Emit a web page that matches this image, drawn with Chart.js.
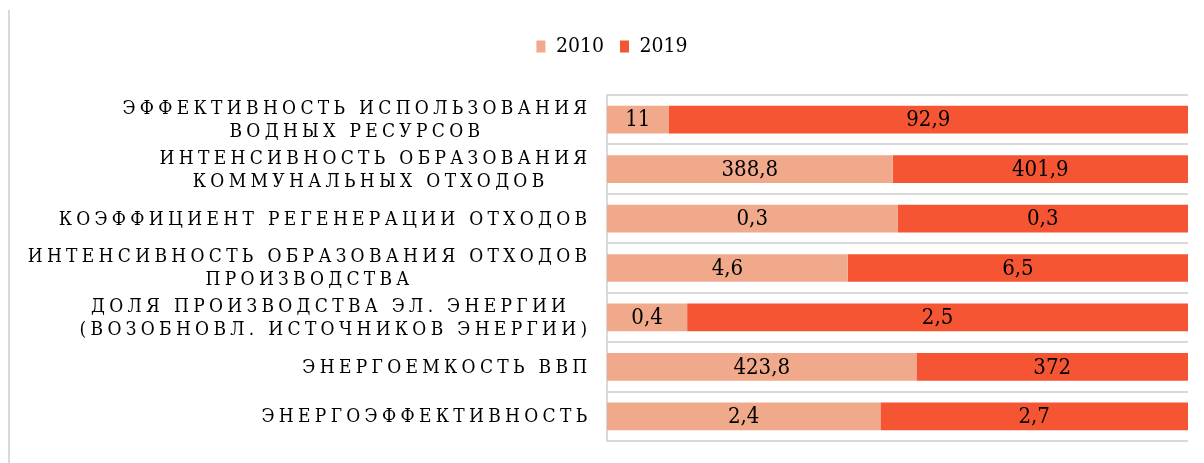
<!DOCTYPE html>
<html lang="ru">
<head>
<meta charset="utf-8">
<script src="https://cdn.jsdelivr.net/npm/chart.js@4.4.1/dist/chart.umd.min.js"></script>
<style>
  html, body { margin: 0; padding: 0; background: #fff; }
  #wrap { position: relative; width: 1204px; height: 463px; }
</style>
</head>
<body>
<div id="wrap"><canvas id="ecoChart"></canvas></div>
<script>
// Категории (многострочные подписи)
const categories = [
    ['ЭФФЕКТИВНОСТЬ ИСПОЛЬЗОВАНИЯ', 'ВОДНЫХ РЕСУРСОВ'],
    ['ИНТЕНСИВНОСТЬ ОБРАЗОВАНИЯ', 'КОММУНАЛЬНЫХ ОТХОДОВ '],
    ['КОЭФФИЦИЕНТ РЕГЕНЕРАЦИИ ОТХОДОВ'],
    ['ИНТЕНСИВНОСТЬ ОБРАЗОВАНИЯ ОТХОДОВ', 'ПРОИЗВОДСТВА'],
    ['ДОЛЯ ПРОИЗВОДСТВА ЭЛ. ЭНЕРГИИ ', '(ВОЗОБНОВЛ. ИСТОЧНИКОВ ЭНЕРГИИ)'],
    ['ЭНЕРГОЕМКОСТЬ ВВП'],
    ['ЭНЕРГОЭФФЕКТИВНОСТЬ']
];
const values2010 = [11, 388.8, 0.3, 4.6, 0.4, 423.8, 2.4];
const values2019 = [92.9, 401.9, 0.3, 6.5, 2.5, 372, 2.7];
const seriesNames = ['2010', '2019'];

const color2010 = '#F1A98B';
const color2019 = '#F55533';
// Liberation Serif здесь без кириллицы/цифр с засечками, берём DejaVu Serif Condensed
const serif = '"DejaVu Serif Condensed", "DejaVu Serif", serif';

// доля каждого года в сумме (100% stacked)
function share(a, b) {
    return a.map((v, i) => v / (v + b[i]) * 100);
}
const raw = [values2010, values2019];

function fmt(v) {
    return String(v).replace('.', ',');
}

// подписи категорий с разрядкой букв
const catLabels = {
    id: 'catLabels',
    afterDraw(chart) {
        const ctx = chart.ctx;
        const y = chart.scales.y;
        const spacing = 4.3;
        const right = chart.chartArea.left - 22 + spacing;
        const lineH = 23;
        ctx.save();
        ctx.font = '19px ' + serif;
        ctx.fillStyle = '#000';
        ctx.letterSpacing = spacing + 'px';
        ctx.textAlign = 'center';
        ctx.textBaseline = 'middle';
        categories.forEach((lines, i) => {
            const cy = y.getPixelForValue(i) + 1;
            const w = Math.max(...lines.map(l => ctx.measureText(l).width));
            const cx = right - w / 2;
            lines.forEach((l, k) => {
                const ly = cy + (k - (lines.length - 1) / 2) * lineH;
                ctx.fillText(l, cx + spacing / 2, ly);
            });
        });
        ctx.restore();
    }
};

// значения внутри сегментов
const valueLabels = {
    id: 'valueLabels',
    afterDatasetsDraw(chart) {
        const ctx = chart.ctx;
        ctx.save();
        ctx.font = '22px ' + serif;
        ctx.fillStyle = '#000';
        ctx.textAlign = 'center';
        ctx.textBaseline = 'middle';
        chart.data.datasets.forEach((ds, di) => {
            chart.getDatasetMeta(di).data.forEach((bar, i) => {
                const p = bar.getProps(['x', 'y', 'base'], true);
                ctx.fillText(fmt(raw[di][i]), (p.x + p.base) / 2, p.y + 1);
            });
        });
        ctx.restore();
    }
};

// рамка слева
const frameLine = {
    id: 'frameLine',
    beforeDraw(chart) {
        const ctx = chart.ctx;
        ctx.save();
        ctx.strokeStyle = '#d9d9d9';
        ctx.lineWidth = 2;
        ctx.beginPath();
        ctx.moveTo(9, 10);
        ctx.lineTo(9, chart.height);
        ctx.stroke();
        ctx.restore();
    }
};

const ctx = document.getElementById('ecoChart').getContext('2d');
const ecoChart = new Chart(ctx, {
    type: 'bar',
    data: {
        labels: categories,
        datasets: [
            {
                label: seriesNames[0],
                data: share(values2010, values2019),
                backgroundColor: color2010,
                borderWidth: 0,
                categoryPercentage: 1,
                barPercentage: 0.56
            },
            {
                label: seriesNames[1],
                data: share(values2019, values2010),
                backgroundColor: color2019,
                borderWidth: 0,
                categoryPercentage: 1,
                barPercentage: 0.56
            }
        ]
    },
    options: {
        indexAxis: 'y',
        responsive: true,
        maintainAspectRatio: false,
        animation: false,
        layout: {
            padding: { left: 36, right: 16, top: 20, bottom: 22 }
        },
        scales: {
            x: {
                stacked: true,
                min: 0,
                max: 100,
                position: 'top',
                ticks: { display: false },
                grid: { display: false },
                border: { display: false },
                afterFit(scale) {
                    scale.height = 28;
                }
            },
            y: {
                stacked: true,
                ticks: { display: false },
                grid: {
                    color: '#d9d9d9',
                    lineWidth: 2,
                    drawTicks: false
                },
                border: {
                    color: '#d9d9d9',
                    width: 2
                },
                afterFit(scale) {
                    scale.width = 571;
                }
            }
        },
        plugins: {
            legend: {
                position: 'top',
                align: 'center',
                labels: {
                    boxWidth: 9,
                    boxHeight: 12,
                    padding: 16,
                    color: '#000',
                    font: { family: serif, size: 21 }
                }
            },
            tooltip: { enabled: false }
        }
    },
    plugins: [catLabels, valueLabels, frameLine]
});
</script>
</body>
</html>
